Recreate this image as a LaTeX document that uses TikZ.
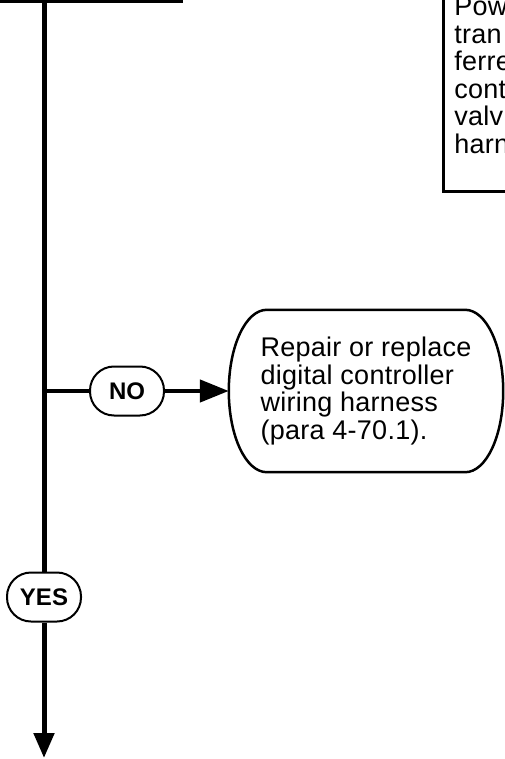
\documentclass[tikz,border=0pt]{standalone}
\usepackage{fontspec}
\setmainfont{Liberation Sans}
\usetikzlibrary{arrows.meta, positioning}

\begin{document}
\begin{tikzpicture}[x=1pt, y=-1pt,
        every node/.style={font=\fontsize{27}{27.6}\selectfont\addfontfeatures{LetterSpace=1}},
        pill/.style={draw, line width=2pt, rounded corners=24pt, minimum width=74pt, minimum height=49pt, inner sep=0pt, font=\fontsize{24}{26}\selectfont\bfseries},
        flow/.style={line width=5pt},
        tip/.style={-{Triangle[length=25pt, width=20pt]}}]
        \path[use as bounding box, clip] (0,0) rectangle (505,759);

        \node (top) [draw, line width=3pt, minimum width=210pt, minimum height=60pt, anchor=south west] at (-30,3) {};
        \node (power) [draw, line width=2.5pt, anchor=south west, align=left, text width=110pt, inner xsep=11pt, inner ysep=38pt] at (442,193) {Pow\\tran\\ferre\\cont\\valv\\harn};
        \node (no) [pill] at (127,391) {NO};
        \node (repair) [align=left, minimum width=274pt, minimum height=162pt] at (366,391) {Repair or replace\\digital controller\\wiring harness\\(para 4-70.1).};
        \node (yes) [pill] at (44,597) {YES};
        \coordinate (exit) at (44,758);

        % outline of the repair box, oval ends
        \draw[line width=2.5pt] ([xshift=38pt]repair.north west) -- ([xshift=-38pt]repair.north east)
            .. controls ([xshift=-17pt]repair.north east) and ([yshift=45pt]repair.east) .. (repair.east)
            .. controls ([yshift=-45pt]repair.east) and ([xshift=-17pt]repair.south east) .. ([xshift=-38pt]repair.south east)
            -- ([xshift=38pt]repair.south west)
            .. controls ([xshift=17pt]repair.south west) and ([yshift=-45pt]repair.west) .. (repair.west)
            .. controls ([yshift=45pt]repair.west) and ([xshift=17pt]repair.north west) .. cycle;

        \draw[flow] (yes |- top.south) -- (yes);
        \draw[flow, tip] (yes) -- (exit);
        \draw[flow, line width=4.5pt] (yes |- no) -- (no);
        \draw[flow, line width=4.5pt, -{Triangle[length=29pt, width=22pt]}] (no) -- (repair);
    \end{tikzpicture}
\end{document}
